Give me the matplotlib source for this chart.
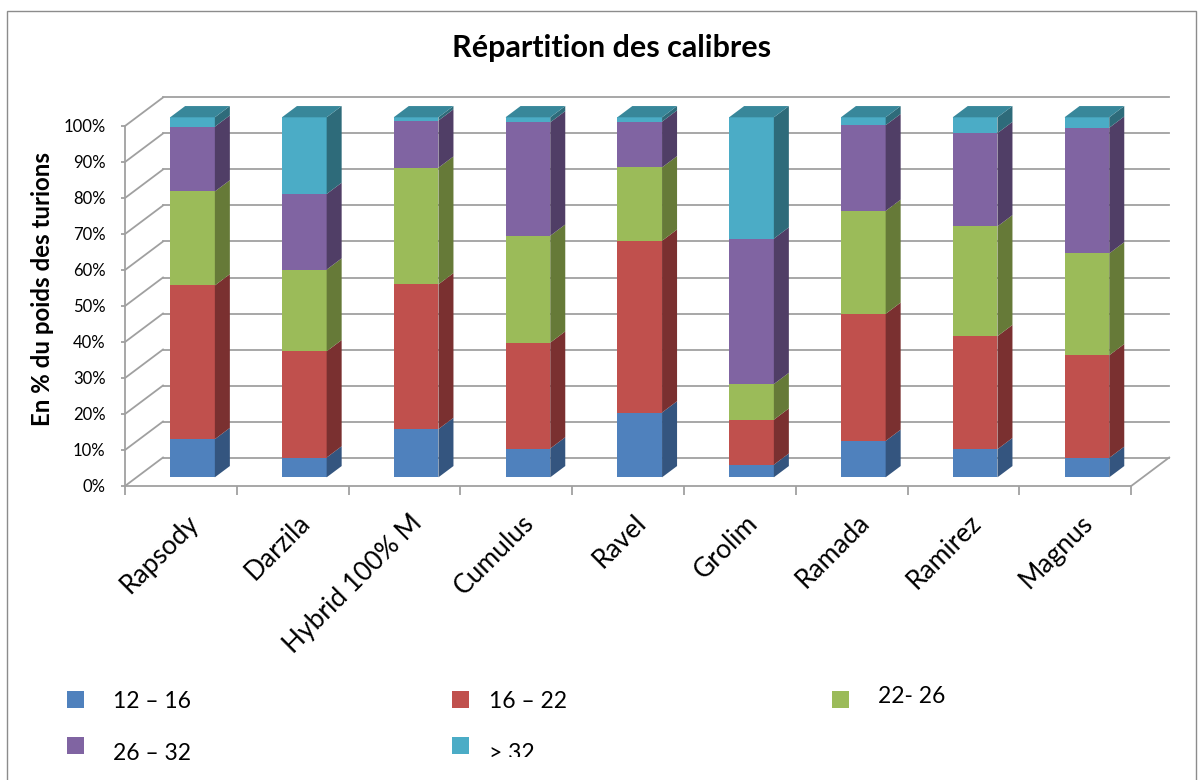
import matplotlib
matplotlib.use("Agg")
import matplotlib.pyplot as plt
import numpy as np
from matplotlib.patches import Polygon, Rectangle
from matplotlib.transforms import Bbox, offset_copy

CATEGORIES = ["Rapsody", "Darzila", "Hybrid 100% M", "Cumulus", "Ravel",
              "Grolim", "Ramada", "Ramirez", "Magnus"]
SERIES_LABELS = ["12 – 16", "16 – 22", "22- 26", "26 – 32", "> 32"]

# % du poids des turions, par classe de calibre
S_12_16 = [10.6, 5.5, 13.4, 8.0, 18.0, 3.5, 10.1, 7.8, 5.4]
S_16_22 = [42.7, 29.5, 40.2, 29.4, 47.7, 12.5, 35.3, 31.4, 28.5]
S_22_26 = [26.1, 22.7, 32.4, 29.7, 20.4, 9.9, 28.6, 30.5, 28.3]
S_26_32 = [18.0, 21.0, 13.1, 31.5, 12.7, 40.4, 23.8, 25.9, 34.9]
S_OVER_32 = [2.6, 21.3, 0.9, 1.4, 1.2, 33.7, 2.2, 4.4, 2.9]

Y_TICKS = list(range(0, 101, 10))

FRONT = ["#4F81BD", "#C0504D", "#9BBB59", "#8064A2", "#4BACC6"]
SIDE = ["#34557F", "#7A3030", "#667A38", "#503E66", "#2E6B7A"]
TOP = "#38879A"
GRID = "#a0a0a0"

W, H = 1203, 780
FONT = "Lato"

# 3D look: pixel geometry of the Excel chart
PX_X, PX_Y = 111.8, 3.6
DEPTH_X, DEPTH_Y = 38 / PX_X, 28.5 / PX_Y
BAR_W = 0.40
D0, D1 = 0.305, 0.70


def depth(x, y, d):
    return x + d * DEPTH_X, y + d * DEPTH_Y


def main() -> None:
    series = [S_12_16, S_16_22, S_22_26, S_26_32, S_OVER_32]
    n = len(CATEGORIES)

    fig = plt.figure(figsize=(W / 100, H / 100), dpi=100)
    fig.patch.set_facecolor("white")

    ax = fig.add_axes([125 / W, 1 - 486 / H, (1169 - 125) / W, (486 - 96) / H])
    ax.set_xlim(0, (1169 - 125) / PX_X)
    ax.set_ylim(0, (486 - 96) / PX_Y)
    ax.patch.set_visible(False)
    for s in ax.spines.values():
        s.set_visible(False)

    # back wall, side wall and floor
    for v in Y_TICKS:
        bx0, by = depth(0, v, 1)
        bx1, _ = depth(n, v, 1)
        ax.plot([bx0, bx1], [by, by], color=GRID, lw=1.3, zorder=1, clip_on=False)
        ax.plot([0, bx0], [v, by], color=GRID, lw=1.3, zorder=1, clip_on=False)
    ax.plot([0, 0], [0, 100], color=GRID, lw=1.3, zorder=1, clip_on=False)
    ax.plot([0, n], [0, 0], color=GRID, lw=1.3, zorder=1, clip_on=False)
    ex, ey = depth(n, 0, 1)
    ax.plot([n, ex], [0, ey], color=GRID, lw=1.3, zorder=1, clip_on=False)

    # stacked 3D bars
    centers = np.arange(n) + 0.5
    bottom = np.zeros(n)
    for k, vals in enumerate(series):
        vals = np.asarray(vals)
        fx, fb = depth(centers, bottom, D0)
        ax.bar(fx, vals, width=BAR_W, bottom=fb, color=FRONT[k], linewidth=0, zorder=3)
        dd = D1 - D0
        for i in range(n):
            xr = fx[i] + BAR_W / 2
            b = fb[i]
            t = fb[i] + vals[i]
            side = [(xr, b), (xr + dd * DEPTH_X, b + dd * DEPTH_Y),
                    (xr + dd * DEPTH_X, t + dd * DEPTH_Y), (xr, t)]
            ax.add_patch(Polygon(side, closed=True, facecolor=SIDE[k], lw=0, zorder=3))
            if k == len(series) - 1:
                xl = xr - BAR_W
                top = [(xl, t), (xr, t), (xr + dd * DEPTH_X, t + dd * DEPTH_Y),
                       (xl + dd * DEPTH_X, t + dd * DEPTH_Y)]
                ax.add_patch(Polygon(top, closed=True, facecolor=TOP, lw=0, zorder=3))
        bottom = bottom + vals

    # axes ticks
    ax.set_yticks(Y_TICKS)
    ax.set_yticklabels([f"{v}%" for v in Y_TICKS], fontsize=12, family=FONT)
    ax.tick_params(axis="y", length=3, color=GRID, width=1.3, pad=11)
    ax.set_xticks(range(n + 1))
    ax.set_xticklabels([])
    ax.tick_params(axis="x", length=6.5, color=GRID, width=1.3, direction="out")

    lab_tr = offset_copy(ax.transData, fig=fig, x=5, y=-24, units="dots")
    for c, name in zip(centers, CATEGORIES):
        ax.text(c, 0, name, rotation=45, rotation_mode="anchor", ha="right", va="top",
                fontsize=19, family=FONT, transform=lab_tr)

    # titles
    fig.text(611.5 / W, 1 - 57 / H, "Répartition des calibres", ha="center", va="baseline",
             fontsize=22, fontweight="bold", family=FONT)
    fig.text(43 / W, 1 - 289 / H, "En % du poids des turions", rotation=90,
             ha="center", va="center", fontsize=17.3, fontweight="bold", family=FONT)

    # legend (laid out like the original, 3 columns)
    legend_pos = [(67, 691, 113, 708), (452, 691, 489, 708), (832, 691, 878, 703),
                  (67, 737, 113, 760), (452, 737, 489, 760)]
    for k, (mx, my, tx, ty) in enumerate(legend_pos):
        fig.add_artist(Rectangle((mx / W, 1 - (my + 17) / H), 17 / W, 17 / H,
                                 transform=fig.transFigure, facecolor=FRONT[k], lw=0))
        txt = fig.text(tx / W, 1 - ty / H, SERIES_LABELS[k], ha="left", va="baseline",
                       fontsize=16.5, family=FONT)
        if k == len(legend_pos) - 1:
            txt.set_clip_box(Bbox([[0, 1 - 757 / H], [1, 1]]).transformed(fig.transFigure))
            txt.set_clip_on(True)

    # chart frame
    fig.add_artist(Rectangle((7 / W, -0.05), (1196 - 7) / W, (H - 11) / H + 0.05,
                             transform=fig.transFigure, fill=False, edgecolor="#8c8c8c", lw=1))

    fig.savefig("out.png", dpi=100, facecolor="white")
    plt.close(fig)


if __name__ == "__main__":
    main()
